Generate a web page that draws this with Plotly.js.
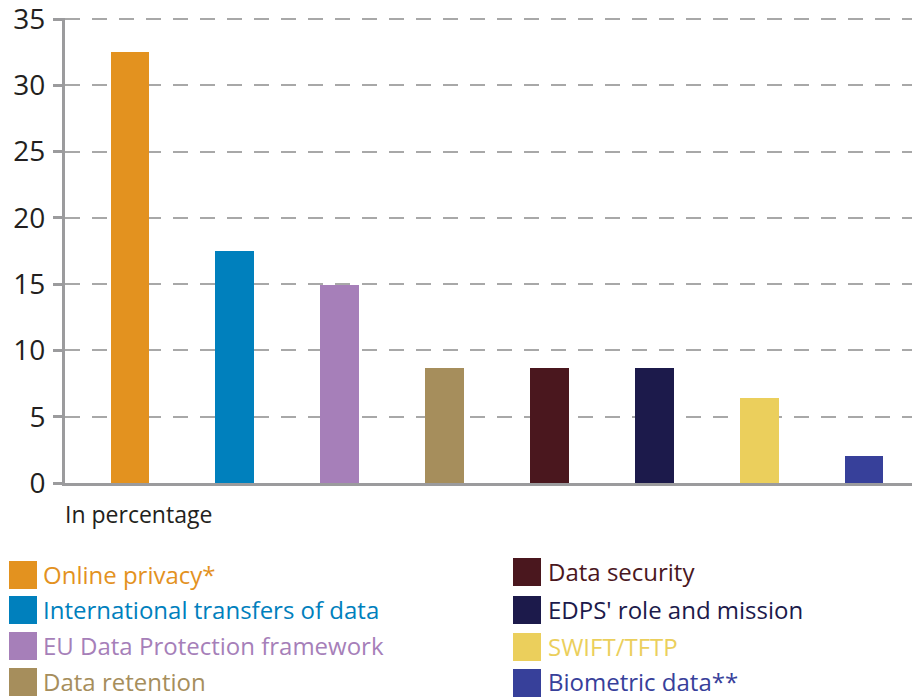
<!DOCTYPE html>
<html>
<head>
<meta charset="utf-8">
<script src="https://cdn.plot.ly/plotly-3.0.1.min.js"></script>
<style>html,body{margin:0;padding:0;background:#fff;}#chart{width:917px;height:697px;}</style>
</head>
<body>
<div id="chart"></div>
<script>
const categories = ["Online privacy*", "International transfers of data", "EU Data Protection framework", "Data retention", "Data security", "EDPS' role and mission", "SWIFT/TFTP", "Biometric data**"];
const values = [32.5, 17.5, 14.9, 8.7, 8.7, 8.7, 6.4, 2.0];
const colors = ["#E3921F", "#0080BD", "#A67FB9", "#A68E5C", "#4A171E", "#1C1A4B", "#EBCF5C", "#37409A"];
const yTicks = [0, 5, 10, 15, 20, 25, 30, 35];
const unitLabel = "In percentage";

const W = 917, H = 697;
const mL = 65, mR = 5, mT = 18, mB = 214;
const pw = W - mL - mR, ph = H - mT - mB;
const px2x = p => (p - mL) / pw;
const py2y = p => (H - mB - p) / ph;

const positions = categories.map((c, i) => i);
const trace = {
  type: 'bar',
  x: positions,
  y: values,
  width: 0.37,
  marker: {color: colors, line: {width: 0}},
  showlegend: false,
  hoverinfo: 'skip'
};

const shapes = [];
const annotations = [];
// legend: two columns of four
const legendCols = [{sx: 9, tx: 42}, {sx: 513, tx: 547}];
const rowTops = [[561, 596, 632, 668], [558, 596, 633, 669]];
categories.forEach((c, i) => {
  const col = Math.floor(i / 4), row = i % 4;
  const top = rowTops[col][row];
  const lc = legendCols[col];
  shapes.push({type: 'rect', xref: 'paper', yref: 'paper',
    x0: px2x(lc.sx), x1: px2x(lc.sx + 28), y0: py2y(top + 28), y1: py2y(top),
    fillcolor: colors[i], line: {width: 0}, layer: 'above'});
  annotations.push({xref: 'paper', yref: 'paper', x: px2x(lc.tx), y: py2y(Math.min(top + 13, 681)),
    xanchor: 'left', yanchor: 'middle', text: c, showarrow: false, borderpad: 0,
    font: {family: 'Open Sans', size: 24, color: colors[i]}});
});
annotations.push({xref: 'paper', yref: 'paper', x: px2x(64), y: py2y(514),
  xanchor: 'left', yanchor: 'middle', text: unitLabel, showarrow: false, borderpad: 0,
  font: {family: 'Open Sans', size: 23, color: '#231F20'}});

const layout = {
  width: W, height: H,
  margin: {l: mL, r: mR, t: mT, b: mB, pad: 0},
  paper_bgcolor: '#fff', plot_bgcolor: '#fff',
  xaxis: {range: [-0.62, 7.457], showgrid: false, zeroline: false, showticklabels: false,
    ticks: '', showline: true, linecolor: '#9B9B9D', linewidth: 3, fixedrange: true},
  yaxis: {range: [0, 35.08], tickvals: yTicks, ticktext: yTicks.map(String), showgrid: true,
    gridcolor: '#A8A8A8', gridwidth: 2, griddash: '15px,12px', zeroline: false,
    showline: true, linecolor: '#9B9B9D', linewidth: 3, ticks: 'outside', ticklen: 9,
    tickwidth: 3, tickcolor: '#9B9B9D', ticklabelstandoff: 2, ticklabeloverflow: 'allow',
    tickfont: {family: 'Open Sans', size: 28, color: '#231F20'}, fixedrange: true},
  shapes: shapes,
  annotations: annotations,
  bargap: 0
};

Plotly.newPlot('chart', [trace], layout, {displayModeBar: false, staticPlot: true});
</script>
</body>
</html>
